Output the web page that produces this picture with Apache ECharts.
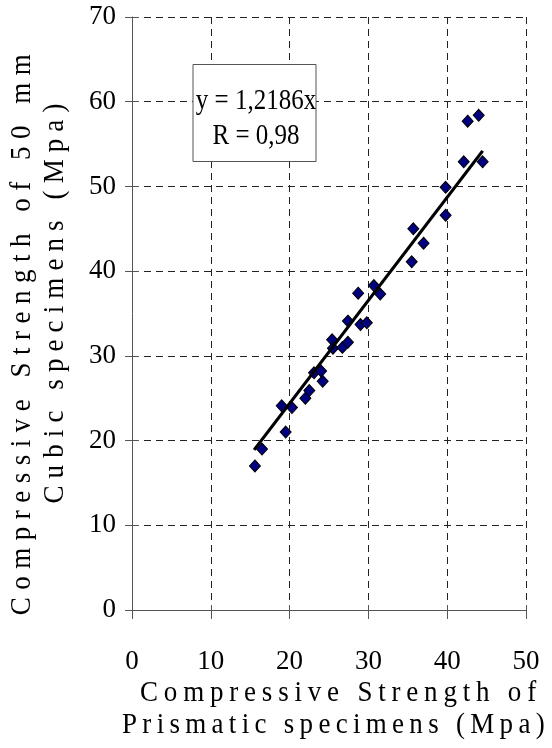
<!DOCTYPE html>
<html><head><meta charset="utf-8">
<script src="https://cdn.jsdelivr.net/npm/echarts@6/dist/echarts.min.js"></script>
<style>html,body{margin:0;padding:0;background:#fff}#c{width:552px;height:748px}</style>
</head><body><div id="c"></div>
<script>
// ---- data ----
const prismatic = [15.6, 16.5, 19.5, 19.0, 20.3, 22.0, 22.5, 23.1, 24.0, 24.2, 25.4, 25.5, 26.7, 27.4, 27.4, 29.0, 29.8, 28.7, 30.7, 31.5, 35.5, 37.0, 35.7, 39.8, 39.8, 42.1, 44.5, 42.6, 44.0];
const cubic     = [17.0, 19.0, 21.0, 24.1, 23.9, 25.0, 25.9, 28.0, 28.2, 27.0, 31.9, 30.9, 31.0, 31.6, 34.1, 33.7, 33.9, 37.4, 38.3, 37.3, 41.1, 43.3, 45.0, 46.6, 49.9, 52.9, 52.9, 57.7, 58.4];
const trendX = [15.5, 44.5];
const trendY = [18.9, 54.2];
const xTicks = [0, 10, 20, 30, 40, 50];
const yTicks = [0, 10, 20, 30, 40, 50, 60, 70];
const xTitle = ['Compressive Strength of', 'Prismatic specimens (Mpa)'];
const yTitle = ['Compressive Strength of 50 mm', 'Cubic specimens (Mpa)'];
const boxText = ['y = 1,2186x', 'R = 0,98'];

// letter spacing for the widely tracked axis titles (canvas letterSpacing, scoped by save/restore)
const spacing = new Map([[xTitle[0], 5.8], [xTitle[1], 5.3], [yTitle[0], 7.5], [yTitle[1], 7.1]]);
const origFill = CanvasRenderingContext2D.prototype.fillText;
CanvasRenderingContext2D.prototype.fillText = function (t, x, y, w) {
  const s = spacing.get(t);
  if (s != null && ('letterSpacing' in this)) {
    this.save();
    this.letterSpacing = s + 'px';
    const f = this.font; this.font = f;
    const r = (w === undefined) ? origFill.call(this, t, x, y) : origFill.call(this, t, x, y, w);
    this.restore();
    return r;
  }
  return (w === undefined) ? origFill.call(this, t, x, y) : origFill.call(this, t, x, y, w);
};

const FAMILY = 'Liberation Serif';
const points = prismatic.map((v, i) => [v, cubic[i]]);
const trend = trendX.map((v, i) => [v, trendY[i]]);
const axisGray = '#555';
const dash = [7, 5];

function mainAxis(ticks, isX) {
  return {
    type: 'value', min: ticks[0], max: ticks[ticks.length - 1], interval: ticks[1] - ticks[0],
    position: isX ? 'bottom' : 'left',
    axisLine: { show: true, lineStyle: { color: axisGray, width: 1 } },
    axisTick: { show: true, inside: false, length: isX ? 9 : 7, lineStyle: { color: axisGray } },
    axisLabel: { color: '#000', fontFamily: FAMILY, fontSize: 27, margin: isX ? 38 : 16 },
    splitLine: { show: true, lineStyle: { color: '#222', type: dash, width: 1 } }
  };
}
function innerAxis(ticks, isX) {
  return {
    type: 'value', min: ticks[0], max: ticks[ticks.length - 1], interval: ticks[1] - ticks[0],
    position: isX ? 'bottom' : 'left',
    axisLine: { show: false },
    axisTick: { show: true, inside: true, length: isX ? 5 : 7, lineStyle: { color: axisGray } },
    axisLabel: { show: false },
    splitLine: { show: false }
  };
}

const chart = echarts.init(document.getElementById('c'), null, { renderer: 'canvas' });
const txt = (t, size) => ({ text: t, fontFamily: FAMILY, fontSize: size, fill: '#000', align: 'center', verticalAlign: 'middle' });
chart.setOption({
  animation: false,
  backgroundColor: '#fff',
  textStyle: { fontFamily: FAMILY },
  grid: { left: 132, right: 26, top: 17, bottom: 138 },
  xAxis: [mainAxis(xTicks, true), innerAxis(xTicks, true)],
  yAxis: [mainAxis(yTicks, false), innerAxis(yTicks, false)],
  series: [
    {
      type: 'scatter', data: points, symbol: 'diamond', symbolSize: [11, 12], z: 3,
      itemStyle: { color: '#000080', borderColor: '#000', borderWidth: 1, opacity: 1 }
    },
    {
      type: 'line', data: trend, showSymbol: false, symbol: 'none', z: 4,
      lineStyle: { color: '#000', width: 3.2 }
    }
  ],
  graphic: [
    { type: 'rect', z: 60, shape: { x: 193, y: 64.5, width: 123, height: 97 },
      style: { fill: '#fff', stroke: axisGray, lineWidth: 1 } },
    { type: 'text', x: 256, y: 101, z: 61, scaleY: 1.18, style: txt(boxText[0], 25) },
    { type: 'text', x: 256, y: 136, z: 61, scaleY: 1.18, style: txt(boxText[1], 25) },
    { type: 'text', x: 341, y: 693, z: 70, scaleY: 1.12, style: txt(xTitle[0], 27) },
    { type: 'text', x: 336, y: 725, z: 70, scaleY: 1.12, style: txt(xTitle[1], 27) },
    { type: 'text', x: 22.5, y: 331, rotation: Math.PI / 2, scaleY: 1.12, z: 70, style: txt(yTitle[0], 27) },
    { type: 'text', x: 55, y: 300, rotation: Math.PI / 2, scaleY: 1.12, z: 70, style: txt(yTitle[1], 27) }
  ]
});
</script>
</body></html>
